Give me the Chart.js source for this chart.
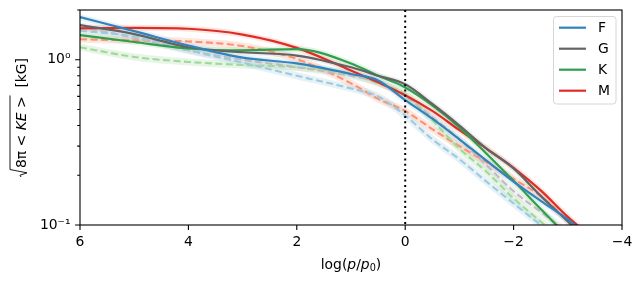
<!DOCTYPE html>
<html>
<head>
<meta charset="utf-8">
<script src="https://cdn.jsdelivr.net/npm/chart.js@4.4.0/dist/chart.umd.min.js"></script>
<style>
  html, body { margin: 0; padding: 0; background: #fff; }
  canvas { display: block; }
</style>
</head>
<body>
<canvas id="chart" width="642" height="282"></canvas>
<script>
// log(p/p0) sample points (x axis)
const logP = [6, 5, 4, 3, 2, 1, 0.5, 0, -0.5, -1, -1.5, -2, -2.5, -3, -3.3];

// solid curves, kG
const fSolid = [1.81, 1.49, 1.22, 1.03, 0.95, 0.82, 0.75, 0.57, 0.44, 0.33, 0.245, 0.183, 0.14, 0.108, 0.09];
const gSolid = [1.62, 1.43, 1.19, 1.11, 1.06, 0.90, 0.80, 0.71, 0.54, 0.40, 0.29, 0.22, 0.15, 0.105, 0.085];
const kSolid = [1.41, 1.28, 1.17, 1.14, 1.16, 0.95, 0.80, 0.68, 0.53, 0.39, 0.27, 0.185, 0.125, 0.085, null];
const mSolid = [1.55, 1.56, 1.54, 1.42, 1.18, 0.86, 0.73, 0.61, 0.49, 0.375, 0.29, 0.222, 0.162, 0.112, 0.092];

// dashed curves, kG
const fDashed = [1.50, 1.38, 1.14, 0.96, 0.80, 0.67, 0.60, 0.46, 0.33, 0.25, 0.183, 0.135, 0.1, null, null];
const gDashed = [1.58, 1.36, 1.14, 1.00, 0.90, 0.80, 0.73, 0.60, 0.45, 0.33, 0.23, 0.16, 0.12, 0.09, null];
const kDashed = [1.19, 1.04, 0.97, 0.93, 0.90, 0.82, 0.72, 0.62, 0.43, 0.29, 0.21, 0.145, 0.105, 0.078, null];
const mDashed = [1.33, 1.31, 1.29, 1.21, 1.01, 0.72, 0.58, 0.49, 0.38, 0.30, 0.24, 0.19, 0.15, 0.107, 0.088];

const legendLabels = ['F', 'G', 'K', 'M'];
const xTicks = [6, 4, 2, 0, -2, -4];
const yTicks = [0.1, 0.2, 0.3, 0.4, 0.5, 0.6, 0.7, 0.8, 0.9, 1, 2];
const refLineX = 0;

const darkColors = ['#3182bd', '#636363', '#2f9e4f', '#de2d26'];
const lightColors = ['#9ecae1', '#bdbdbd', '#a1d99b', '#fc9272'];
const bandColors = ['rgba(158,202,225,0.25)', 'rgba(189,189,189,0.22)', 'rgba(161,217,155,0.25)', 'rgba(252,146,114,0.22)'];

const FONT = "'DejaVu Sans', sans-serif";
const FS = 13.9;

function points(values) {
  return logP.map((x, i) => ({ x: x, y: values[i] }));
}

function line(values, color, width, dash, order) {
  return {
    data: points(values),
    borderColor: color,
    borderWidth: width,
    borderDash: dash,
    pointRadius: 0,
    tension: 0.4,
    cubicInterpolationMode: 'monotone',
    fill: false,
    clip: 0,
    order: order
  };
}

const solids = [fSolid, gSolid, kSolid, mSolid];
const dashes = [fDashed, gDashed, kDashed, mDashed];
const datasets = [];
solids.forEach((v, i) => datasets.push(line(v, darkColors[i], 2.2, [], 0)));
dashes.forEach((v, i) => datasets.push(line(v, lightColors[i], 2.1, [7, 3.5], 1)));
solids.forEach((v, i) => datasets.push(line(v, bandColors[i], 6, [], 2)));
dashes.forEach((v, i) => datasets.push(line(v, bandColors[i], 7, [], 2)));

function drawRuns(ctx, runs, x, y) {
  let cx = x;
  for (const r of runs) {
    ctx.font = r.font;
    ctx.fillText(r.text, cx, y + (r.dy || 0));
    r.x0 = cx;
    cx += ctx.measureText(r.text).width;
    r.x1 = cx;
  }
  return cx;
}

function runsWidth(ctx, runs) {
  let w = 0;
  for (const r of runs) {
    ctx.font = r.font;
    w += ctx.measureText(r.text).width;
  }
  return w;
}

const regular = FS + 'px ' + FONT;
const italic = 'italic ' + FS + 'px ' + FONT;
const small = (FS * 0.7) + 'px ' + FONT;

const decorations = {
  id: 'decorations',
  afterDraw(chart) {
    const ctx = chart.ctx;
    const a = chart.chartArea;
    const xs = chart.scales.x;
    const ys = chart.scales.y;
    ctx.save();

    // reference line
    const rx = xs.getPixelForValue(refLineX);
    ctx.strokeStyle = '#000';
    ctx.lineWidth = 2;
    ctx.setLineDash([2, 3.3]);
    ctx.beginPath();
    ctx.moveTo(rx, a.top);
    ctx.lineTo(rx, a.bottom);
    ctx.stroke();
    ctx.setLineDash([]);

    // frame
    ctx.lineWidth = 1.1;
    ctx.strokeRect(a.left, a.top, a.right - a.left, a.bottom - a.top);

    // tick marks
    ctx.beginPath();
    xTicks.forEach(v => {
      const px = xs.getPixelForValue(v);
      ctx.moveTo(px, a.bottom);
      ctx.lineTo(px, a.bottom + 4.9);
    });
    yTicks.forEach(v => {
      const py = ys.getPixelForValue(v);
      const major = Math.abs(Math.log10(v) - Math.round(Math.log10(v))) < 1e-9;
      ctx.moveTo(a.left, py);
      ctx.lineTo(a.left - (major ? 4.9 : 2.8), py);
    });
    ctx.stroke();

    // legend
    const lx = 553.5, ly = 16.5, lw = 62.5, lh = 87.5;
    ctx.beginPath();
    ctx.roundRect(lx, ly, lw, lh, 3);
    ctx.fillStyle = 'rgba(255,255,255,0.8)';
    ctx.fill();
    ctx.strokeStyle = '#d6d6d6';
    ctx.lineWidth = 1;
    ctx.stroke();
    ctx.font = regular;
    ctx.textBaseline = 'middle';
    ctx.textAlign = 'left';
    legendLabels.forEach((lab, i) => {
      const yy = 27.7 + i * 21;
      ctx.strokeStyle = darkColors[i];
      ctx.lineWidth = 2.2;
      ctx.beginPath();
      ctx.moveTo(559, yy);
      ctx.lineTo(586, yy);
      ctx.stroke();
      ctx.fillStyle = '#000';
      ctx.fillText(lab, 598, yy + 1);
    });

    // x title
    ctx.fillStyle = '#000';
    ctx.textBaseline = 'alphabetic';
    const xRuns = [
      { text: 'log(', font: regular },
      { text: 'p', font: italic },
      { text: '/', font: regular },
      { text: 'p', font: italic },
      { text: '0', font: small, dy: 2.5 },
      { text: ')', font: regular }
    ];
    const xw = runsWidth(ctx, xRuns);
    drawRuns(ctx, xRuns, (a.left + a.right) / 2 - xw / 2, 268.5);

    // y title
    const yRuns = [
      { text: '8π < ', font: regular },
      { text: 'KE', font: italic },
      { text: ' >', font: regular },
      { text: '  [kG]', font: regular }
    ];
    const rad = 9;
    const yw = runsWidth(ctx, yRuns) + rad;
    ctx.translate(25.5, (a.top + a.bottom) / 2);
    ctx.rotate(-Math.PI / 2);
    const x0 = -yw / 2;
    drawRuns(ctx, yRuns, x0 + rad, 0);
    ctx.strokeStyle = '#000';
    ctx.lineWidth = 0.9;
    ctx.beginPath();
    ctx.moveTo(x0, -4.5);
    ctx.lineTo(x0 + 1.8, -5.5);
    ctx.lineTo(x0 + 4.2, 1.5);
    ctx.lineTo(x0 + 7.5, -15.5);
    ctx.lineTo(yRuns[2].x1 + 1, -15.5);
    ctx.stroke();

    ctx.restore();
  }
};

new Chart(document.getElementById('chart'), {
  type: 'line',
  data: { datasets: datasets },
  plugins: [decorations],
  options: {
    responsive: false,
    animation: false,
    layout: { padding: { top: 10, right: 20, left: 0, bottom: 0 } },
    plugins: { legend: { display: false }, tooltip: { enabled: false } },
    scales: {
      x: {
        type: 'linear',
        reverse: true,
        min: -4,
        max: 6,
        afterBuildTicks: s => { s.ticks = xTicks.map(v => ({ value: v })); },
        afterFit: s => { s.height = 57; s.paddingLeft = 0; s.paddingRight = 0; },
        grid: { display: false, drawTicks: false },
        border: { display: false },
        ticks: {
          padding: 9.5,
          color: '#000',
          maxRotation: 0,
          autoSkip: false,
          font: { family: FONT, size: FS },
          callback: v => (v < 0 ? '\u2212' + Math.abs(v) : String(v))
        }
      },
      y: {
        type: 'logarithmic',
        min: 0.1,
        max: 2,
        afterBuildTicks: s => { s.ticks = yTicks.map(v => ({ value: v })); },
        afterFit: s => { s.width = 80; s.paddingTop = 0; s.paddingBottom = 0; },
        grid: { display: false, drawTicks: false },
        border: { display: false },
        ticks: {
          padding: 9.5,
          color: '#000',
          autoSkip: false,
          font: { family: FONT, size: FS },
          callback: v => (Math.abs(v - 1) < 1e-9 ? '10\u2070' : (Math.abs(v - 0.1) < 1e-9 ? '10\u207B\u00B9' : ''))
        }
      }
    }
  }
});
</script>
</body>
</html>
